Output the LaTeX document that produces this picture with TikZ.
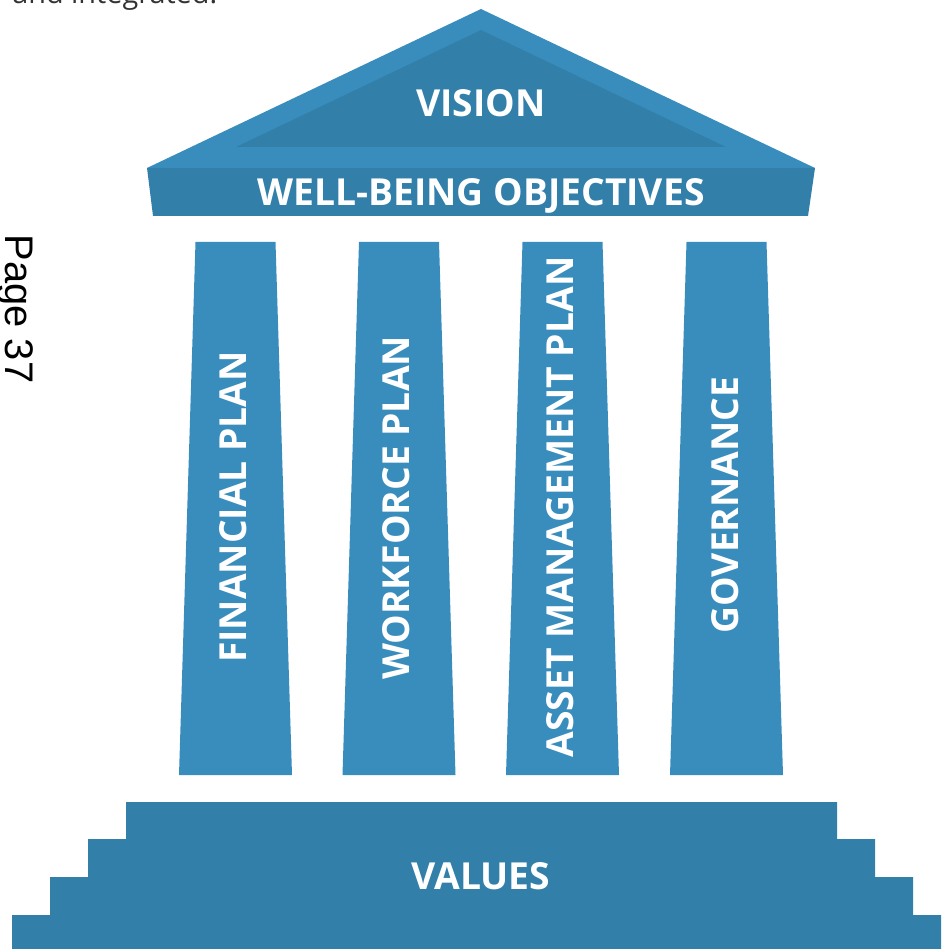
\documentclass[tikz,border=0pt]{standalone}
\usepackage{fontspec}
\setmainfont{Open Sans}
\newfontfamily\pagefont{Liberation Sans}

\definecolor{pillar}{RGB}{57,141,189}
\definecolor{pillardark}{RGB}{50,128,170}

\begin{document}
\begin{tikzpicture}[x=0.02cm, y=-0.02cm,
    lab/.style={text=white, font=\fontsize{21.2}{25}\selectfont\bfseries, inner sep=0pt, anchor=base},
    col/.style={lab, rotate=90}]
    \useasboundingbox (0,0) rectangle (941,949);
    \clip (0,0) rectangle (941,949);

    % text running in from the page above
    \node[anchor=base west, inner sep=0pt, text=black!80,
        font=\fontsize{16.4}{20}\selectfont] (intro) at (12,4) {and integrated.};
    \node[anchor=base, inner sep=0pt, rotate=-90,
        font=\pagefont\fontsize{22.7}{27}\selectfont] (page) at (6,309) {Page 37};

    % roof
    \fill[pillar] (481,9) -- (815,168) -- (147,168) -- cycle;
    \fill[pillardark] (481,30) -- (726,147) -- (236,147) -- cycle;
    \fill[pillardark] (147,168) -- (815,168) -- (808,216) -- (153,216) -- cycle;

    % pillars
    \foreach \c in {235.5,399,562.5,726.5}
        \fill[pillar] (\c-40,242) -- (\c+40,242) -- (\c+56.5,775) -- (\c-56.5,775) -- cycle;

    % steps
    \fill[pillardark] (12,949) -- (12,915) -- (50,915) -- (50,877) -- (88,877)
        -- (88,839) -- (126,839) -- (126,802) -- (837,802) -- (837,839)
        -- (875,839) -- (875,877) -- (913,877) -- (913,915) -- (941,915)
        -- (941,949) -- cycle;

    \node[lab] (vision) at (481,117) {VISION};
    \node[lab] (objectives) at (481,206) {WELL-BEING OBJECTIVES};

    \node[col] (financial) at (246,507) {FINANCIAL PLAN};
    \node[col] (workforce) at (409.5,508) {WORKFORCE PLAN};
    \node[col] (asset) at (573,507) {ASSET MANAGEMENT PLAN};
    \node[col] (governance) at (738,505) {GOVERNANCE};

    \node[lab] (values) at (481,889) {VALUES};
\end{tikzpicture}
\end{document}
